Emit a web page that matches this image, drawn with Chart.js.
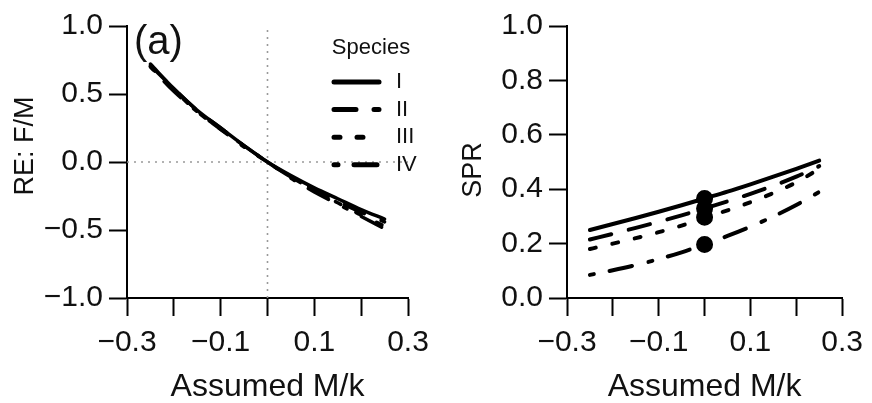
<!DOCTYPE html>
<html>
<head>
<meta charset="utf-8">
<script src="https://cdn.jsdelivr.net/npm/chart.js@4.4.1/dist/chart.umd.min.js"></script>
<style>
  body { margin: 0; background: #fff; }
  #wrap { position: relative; width: 872px; height: 403px; }
  canvas { position: absolute; top: 0; }
  #re-chart { left: 0; }
  #spr-chart { left: 440px; }
</style>
</head>
<body>
<div id="wrap">
  <canvas id="re-chart" width="440" height="403"></canvas>
  <canvas id="spr-chart" width="432" height="403"></canvas>
</div>
<script>
// assumed M/k deviations (x) shared by both panels
const assumedMk = [-0.25, -0.2, -0.15, -0.1, -0.05, 0, 0.05, 0.1, 0.15, 0.2, 0.25];
const speciesNames = ['I', 'II', 'III', 'IV'];

// relative error of F/M
const reSpeciesI   = [0.72, 0.54, 0.38, 0.25, 0.12, 0, -0.10, -0.19, -0.27, -0.35, -0.42];
const reSpeciesII  = [0.71, 0.54, 0.38, 0.25, 0.12, 0, -0.11, -0.20, -0.29, -0.37, -0.44];
const reSpeciesIII = [0.70, 0.53, 0.37, 0.24, 0.12, 0, -0.11, -0.21, -0.30, -0.39, -0.47];
const reSpeciesIV  = [0.70, 0.52, 0.37, 0.24, 0.11, 0, -0.12, -0.22, -0.31, -0.40, -0.49];

// spawning potential ratio
const sprSpeciesI   = [0.25, 0.272, 0.294, 0.317, 0.341, 0.366, 0.391, 0.418, 0.446, 0.475, 0.505];
const sprSpeciesII  = [0.215, 0.236, 0.258, 0.28, 0.304, 0.329, 0.355, 0.383, 0.413, 0.446, 0.485];
const sprSpeciesIII = [0.18, 0.20, 0.22, 0.242, 0.266, 0.297, 0.322, 0.352, 0.386, 0.425, 0.475];
const sprSpeciesIV  = [0.085, 0.102, 0.121, 0.143, 0.168, 0.197, 0.228, 0.262, 0.30, 0.342, 0.39];

// line styles per species
const speciesDash = [[], [22, 18], [6, 17], [4, 16, 23, 17]];

const FONT = '"Liberation Sans", Arial, Helvetica, sans-serif';
const INK = '#111';

Chart.defaults.font.family = FONT;
Chart.defaults.color = INK;

function fmt(v) {
  if (Math.abs(v) < 1e-9) v = 0;
  return v.toFixed(1).replace('-', '\u2212');
}

function toPoints(ys) {
  return assumedMk.map((x, i) => ({x: x, y: ys[i]}));
}

function speciesSets(series, lineWidth, dotRadius) {
  return series.map((ys, i) => ({
    label: speciesNames[i],
    species: true,
    data: toPoints(ys),
    borderColor: '#000',
    backgroundColor: '#000',
    borderWidth: lineWidth,
    borderDash: speciesDash[i],
    borderCapStyle: 'round',
    cubicInterpolationMode: 'monotone',
    pointRadius: assumedMk.map(x => (x === 0 ? dotRadius : 0)),
    pointHoverRadius: 0,
    fill: false
  }));
}

function xScale() {
  return {
    type: 'linear',
    min: -0.3,
    max: 0.3,
    afterFit(scale) { scale.height = 105; },
    border: {display: true, color: '#000', width: 2},
    grid: {drawOnChartArea: false, drawTicks: true, tickLength: 18, tickWidth: 2, tickColor: '#000'},
    ticks: {
      stepSize: 0.1,
      autoSkip: false,
      maxRotation: 0,
      padding: 9,
      font: {size: 30},
      callback(value) {
        const t = Math.round(value * 10);
        return t % 2 !== 0 ? fmt(t / 10) : '';
      }
    },
    title: {display: true, text: 'Assumed M/k', font: {size: 32, lineHeight: 1}, padding: {top: 0, bottom: 0}}
  };
}

function yScale(min, max, step) {
  return {
    type: 'linear',
    min: min,
    max: max,
    afterFit(scale) { scale.width = 127; },
    border: {display: true, color: '#000', width: 2},
    grid: {drawOnChartArea: false, drawTicks: true, tickLength: 18, tickWidth: 2, tickColor: '#000'},
    ticks: {stepSize: step, padding: 6, font: {size: 30}, callback: v => fmt(v)},
    title: {display: false}
  };
}

// rotated y title, panel tag and species key
const panelText = {
  id: 'panelText',
  afterDatasetsDraw(chart, args, opts) {
    const ctx = chart.ctx;
    ctx.save();
    ctx.fillStyle = INK;
    ctx.textBaseline = 'middle';

    ctx.save();
    ctx.translate(opts.yTitleX, opts.yTitleY);
    ctx.rotate(-Math.PI / 2);
    ctx.textAlign = 'center';
    ctx.font = '27px ' + FONT;
    ctx.fillText(opts.yTitle, 0, 0);
    ctx.restore();

    if (opts.key) {
      ctx.textAlign = 'left';
      ctx.font = '40px ' + FONT;
      ctx.fillText('(a)', 134, 43);

      ctx.font = '22px ' + FONT;
      ctx.textAlign = 'center';
      ctx.fillText('Species', 371, 48);
      chart.data.datasets.filter(d => d.species).forEach((d, i) => {
        const y = 82 + i * 27.6;
        ctx.strokeStyle = '#000';
        ctx.lineWidth = 5;
        ctx.lineCap = 'round';
        ctx.setLineDash(d.borderDash);
        ctx.beginPath();
        ctx.moveTo(334, y);
        ctx.lineTo(379, y);
        ctx.stroke();
        ctx.setLineDash([]);
        ctx.font = '22px ' + FONT;
        ctx.textAlign = 'left';
        ctx.fillText(d.label, 396, y);
      });
    }
    ctx.restore();
  }
};

const guideStyle = {
  borderColor: '#999',
  borderWidth: 1.6,
  borderDash: [2, 5],
  pointRadius: 0,
  pointHoverRadius: 0,
  fill: false
};

new Chart('re-chart', {
  type: 'line',
  data: {
    datasets: speciesSets([reSpeciesI, reSpeciesII, reSpeciesIII, reSpeciesIV], 3.5, 0).concat([
      Object.assign({label: 'zero', data: [{x: -0.3, y: 0}, {x: 0.3, y: 0}]}, guideStyle),
      Object.assign({label: 'zero', data: [{x: 0, y: -1}, {x: 0, y: 1}]}, guideStyle)
    ])
  },
  options: {
    responsive: false,
    animation: false,
    layout: {padding: {left: 0, right: 32, top: 26, bottom: 0}},
    scales: {x: xScale(), y: yScale(-1, 1, 0.5)},
    plugins: {
      legend: {display: false},
      tooltip: {enabled: false},
      panelText: {yTitle: 'RE: F/M', yTitleX: 26, yTitleY: 146, key: true}
    }
  },
  plugins: [panelText]
});

new Chart('spr-chart', {
  type: 'line',
  data: {
    datasets: speciesSets([sprSpeciesI, sprSpeciesII, sprSpeciesIII, sprSpeciesIV], 4, 6.5)
  },
  options: {
    responsive: false,
    animation: false,
    layout: {padding: {left: 0, right: 24, top: 26, bottom: 0}},
    scales: {x: xScale(), y: yScale(0, 1, 0.2)},
    plugins: {
      legend: {display: false},
      tooltip: {enabled: false},
      panelText: {yTitle: 'SPR', yTitleX: 34, yTitleY: 170, key: false}
    }
  },
  plugins: [panelText]
});
</script>
</body>
</html>
